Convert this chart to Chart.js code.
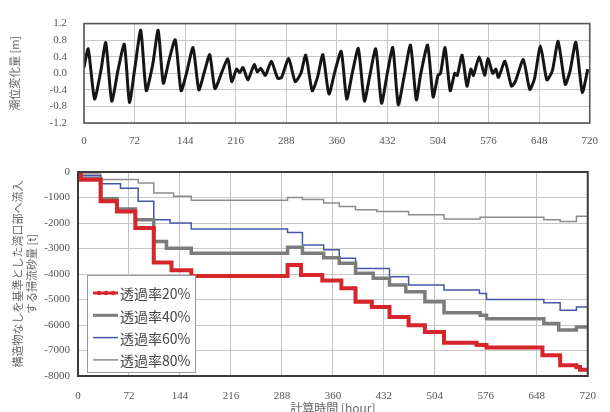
<!DOCTYPE html>
<html>
<head>
<meta charset="utf-8">
<script src="https://cdn.jsdelivr.net/npm/chart.js@4.4.1/dist/chart.umd.min.js"></script>
<style>
  body { margin: 0; width: 610px; height: 412px; overflow: hidden; background: #fff; position: relative; }
  #tide { position: absolute; left: 0; top: 0; }
  #sand { position: absolute; left: 0; top: 150px; }
</style>
</head>
<body>
<canvas id="tide" width="610" height="150"></canvas>
<canvas id="sand" width="610" height="275"></canvas>
<script>
// tide level (upper panel)
const tideHours = [0, 6, 15, 24, 31, 39.5, 48.7, 57.4, 64.7, 72.5, 80.8, 88.6, 97.8, 105.6, 112.9, 120.7, 129.9, 138.2, 145.9,
  155.2, 163.5, 171.3, 179, 186.4, 195.6, 204.8, 210.3, 217.2, 221.8, 226.4, 233.3, 242.3, 246.9, 251.5, 258.3, 266.6,
  275.8, 281.3, 291.4, 300.6, 308.8, 315.7, 324.9, 332.7, 340, 348.7, 357, 366.2, 374, 382.2, 390.5, 399.2, 406.6,
  415.3, 423.6, 431.8, 439.6, 447.4, 455.7, 464.8, 473.1, 479, 489.2, 497, 503.9, 507.6, 514, 521.3, 527.8, 531.4,
  538.3, 545.2, 550.7, 554.4, 562.6, 570.4, 575, 581.9, 586.4, 590, 599.3, 608.5, 614, 625.4, 634.6, 641.5, 649.8,
  658.9, 666.7, 675, 685.1, 692, 700.2, 709.4, 717.2];
const tideLevels = [0.14, 0.59, -0.62, 0.06, 0.74, -0.67, 0.10, 0.70, -0.70, 0.14, 1.04, -0.42, 0.21, 1.04, -0.24, 0.29, 0.81, -0.42, 0.0,
  0.62, -0.40, 0.03, 0.45, -0.37, 0.0, 0.35, -0.20, 0.10, 0.02, 0.14, -0.16, 0.21, 0.03, 0.12, -0.05, 0.29,
  -0.12, -0.10, 0.36, -0.20, 0.0, 0.44, -0.42, -0.08, 0.45, -0.50, 0.03, 0.53, -0.62, 0.03, 0.60, -0.67, -0.08,
  0.59, -0.72, 0.0, 0.62, -0.76, -0.08, 0.68, -0.64, -0.05, 0.68, -0.57, -0.05, 0.0, 0.62, -0.42, 0.0, -0.05,
  0.44, -0.31, 0.10, -0.05, 0.40, -0.05, 0.36, 0.0, 0.10, -0.10, 0.29, -0.31, -0.20, 0.33, -0.39, -0.12, 0.66,
  -0.16, 0.06, 0.77, -0.27, 0.06, 0.75, -0.46, 0.10];

// sediment inflow (lower panel), one pair of arrays per permeability
const seriesNames = ['透過率20%', '透過率40%', '透過率60%', '透過率80%'];
const rate20Hours = [0, 4, 32, 55, 81, 107, 132, 160, 296, 315, 345, 372, 392, 415, 440, 467, 490, 517, 563, 577, 656, 681, 704, 709, 720];
const rate20Sand = [0, -300, -1150, -1550, -2200, -3550, -3850, -4080, -3650, -4040, -4250, -4560, -5090, -5290, -5690, -6010, -6270, -6700, -6780, -6880, -7190, -7580, -7650, -7750, -7750];
const rate40Hours = [0, 4, 32, 55, 81, 107, 125, 160, 296, 317, 347, 369, 392, 417, 440, 463, 490, 517, 568, 577, 658, 679, 704, 720];
const rate40Sand = [0, -250, -1050, -1450, -1870, -2730, -2990, -3190, -2950, -3190, -3360, -3580, -3970, -4170, -4430, -4700, -5090, -5520, -5620, -5750, -5940, -6200, -6080, -6080];
const rate60Hours = [0, 4, 32, 60, 85, 107, 130, 160, 296, 317, 347, 369, 392, 440, 467, 517, 567, 577, 658, 681, 704, 720];
const rate60Sand = [0, -150, -465, -640, -1150, -1870, -2000, -2240, -2370, -2860, -3050, -3380, -3780, -4110, -4430, -4630, -4760, -5000, -5130, -5420, -5290, -5330];
const rate80Hours = [0, 4, 32, 85, 107, 135, 160, 296, 317, 347, 369, 392, 422, 467, 517, 568, 658, 681, 704, 720];
const rate80Sand = [0, -80, -295, -430, -820, -950, -1110, -1000, -1080, -1220, -1350, -1480, -1545, -1675, -1845, -1770, -1870, -1940, -1740, -1740];

const hourTicks = 72;

Chart.defaults.font.family = "'Liberation Serif', serif";
Chart.defaults.color = '#555';

function toPoints(xs, ys) {
  return xs.map((x, i) => ({ x: x, y: ys[i] }));
}

const frame = {
  id: 'frame',
  afterDatasetsDraw(chart, args, opts) {
    const a = chart.chartArea;
    const ctx = chart.ctx;
    ctx.save();
    ctx.strokeStyle = opts.color;
    ctx.lineWidth = opts.width;
    ctx.strokeRect(a.left, a.top, a.right - a.left, a.bottom - a.top);
    ctx.restore();
  }
};

const boxLegend = {
  id: 'boxLegend',
  afterDatasetsDraw(chart) {
    const a = chart.chartArea;
    const ctx = chart.ctx;
    const x0 = a.left + 9, y0 = a.bottom - 101;
    ctx.save();
    ctx.fillStyle = '#fff';
    ctx.fillRect(x0, y0, 108, 97);
    ctx.strokeStyle = '#999';
    ctx.lineWidth = 1;
    ctx.strokeRect(x0 + 0.5, y0 + 0.5, 108, 97);
    ctx.font = "14px 'Noto Sans CJK JP'";
    ctx.textBaseline = 'middle';
    chart.data.datasets.forEach((ds, i) => {
      const y = y0 + 18 + i * 22.3;
      ctx.strokeStyle = ds.borderColor;
      ctx.lineWidth = Math.min(ds.borderWidth, 3);
      ctx.beginPath();
      ctx.moveTo(x0 + 6, y);
      ctx.lineTo(x0 + 31, y);
      ctx.stroke();
      if (i === 0) {
        ctx.fillStyle = ds.borderColor;
        [x0 + 12, x0 + 19, x0 + 26].forEach(px => {
          ctx.beginPath();
          ctx.arc(px, y, 2.2, 0, Math.PI * 2);
          ctx.fill();
        });
      }
      ctx.fillStyle = '#444';
      ctx.fillText(ds.label, x0 + 33, y + 1);
    });
    ctx.restore();
  }
};

new Chart(document.getElementById('tide'), {
  type: 'line',
  data: {
    datasets: [{
      data: toPoints(tideHours, tideLevels),
      borderColor: '#151515',
      borderWidth: 3,
      pointRadius: 0,
      tension: 0.2
    }]
  },
  options: {
    responsive: false,
    animation: false,
    layout: { padding: { top: 16, right: 3, left: 0, bottom: 0 }, autoPadding: false },
    plugins: { legend: { display: false }, tooltip: { enabled: false }, frame: { color: '#555', width: 1.6 } },
    scales: {
      x: {
        type: 'linear', min: 0, max: 720,
        afterFit: s => { s.height = 27; },
        ticks: { stepSize: hourTicks, padding: 12, font: { size: 11 } },
        grid: { color: '#c6c6c6', drawTicks: false },
        border: { display: false }
      },
      y: {
        min: -1.2, max: 1.2,
        afterFit: s => { s.width = 84; },
        ticks: { stepSize: 0.4, padding: 17, font: { size: 11 }, callback: v => v.toFixed(1) },
        grid: { color: '#c6c6c6', drawTicks: false },
        border: { display: false },
        title: { display: true, text: '潮位変化量 [m]', color: '#666', font: { family: "'Noto Sans CJK JP'", size: 11 }, padding: { top: 8, bottom: 0 } }
      }
    }
  },
  plugins: [frame]
});

new Chart(document.getElementById('sand'), {
  type: 'line',
  data: {
    datasets: [
      { label: seriesNames[0], data: toPoints(rate20Hours, rate20Sand), borderColor: '#d6262b', borderWidth: 4, pointRadius: 0, stepped: true },
      { label: seriesNames[1], data: toPoints(rate40Hours, rate40Sand), borderColor: '#7c7c7c', borderWidth: 3.5, pointRadius: 0, stepped: true },
      { label: seriesNames[2], data: toPoints(rate60Hours, rate60Sand), borderColor: '#4657a8', borderWidth: 1.5, pointRadius: 0, stepped: true },
      { label: seriesNames[3], data: toPoints(rate80Hours, rate80Sand), borderColor: '#8c8c8c', borderWidth: 1.5, pointRadius: 0, stepped: true }
    ]
  },
  options: {
    responsive: false,
    animation: false,
    layout: { padding: { top: 22, right: 5, left: 0, bottom: 0 }, autoPadding: false },
    plugins: { legend: { display: false }, tooltip: { enabled: false }, frame: { color: '#3a3a3a', width: 2 } },
    scales: {
      x: {
        type: 'linear', min: 0, max: 720,
        afterFit: s => { s.height = 49; },
        ticks: { stepSize: hourTicks, padding: 14, font: { size: 11 } },
        grid: { color: '#c2c2c2', drawTicks: false },
        border: { display: false },
        title: { display: true, text: '計算時間 [hour]', color: '#666', font: { family: "'Noto Sans CJK JP'", size: 12 }, padding: { top: 0, bottom: 9 } }
      },
      y: {
        min: -8000, max: 0,
        afterFit: s => { s.width = 78; },
        ticks: { stepSize: 1000, padding: 8, font: { size: 11 }, callback: v => String(v) },
        grid: { color: '#c8c8c8', drawTicks: false },
        border: { display: false },
        title: {
          display: true,
          text: ['構造物なしを基準とした湾口部へ流入', 'する掃流砂量 [t]'],
          color: '#666',
          font: { family: "'Noto Sans CJK JP'", size: 11, lineHeight: 1.27 },
          padding: { top: 11, bottom: 0 }
        }
      }
    }
  },
  plugins: [frame, boxLegend]
});
</script>
</body>
</html>
